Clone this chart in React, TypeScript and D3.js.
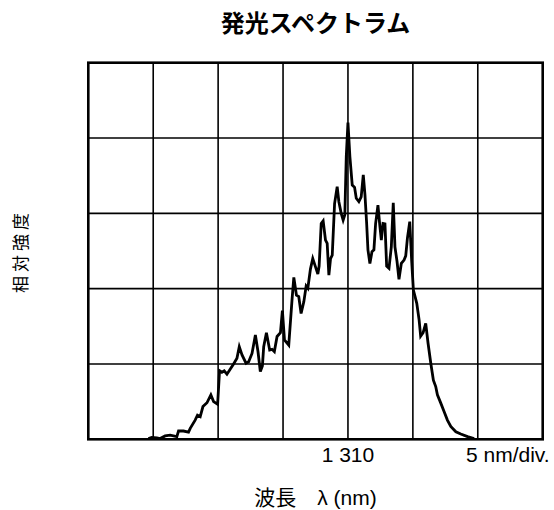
import * as d3 from "d3";

// wavelength (nm) / relative intensity (% of 5 div full scale)
const wavelength = [
  1294.63, 1294.89, 1295.28, 1295.53, 1295.92, 1296.3, 1296.82, 1296.95, 1297.33, 1297.72,
  1297.85, 1298.23, 1298.41, 1298.62, 1298.83, 1299.14, 1299.44, 1299.65, 1299.96, 1300.11,
  1300.29, 1300.47, 1300.68, 1300.89, 1301.19, 1301.45, 1301.63, 1301.84, 1302.15, 1302.35,
  1302.61, 1302.87, 1303.07, 1303.25, 1303.41, 1303.51, 1303.72, 1303.97, 1304.15, 1304.33,
  1304.54, 1304.8, 1304.95, 1305.11, 1305.44, 1305.7, 1305.83, 1306.03, 1306.21, 1306.39,
  1306.6, 1306.78, 1306.91, 1307.11, 1307.29, 1307.5, 1307.68, 1307.78, 1307.94, 1308.09,
  1308.27, 1308.4, 1308.53, 1308.66, 1308.79, 1308.97, 1309.17, 1309.3, 1309.48, 1309.63,
  1309.76, 1309.87, 1310.0, 1310.15, 1310.33, 1310.51, 1310.64, 1310.84, 1311.02, 1311.18,
  1311.31, 1311.44, 1311.54, 1311.69, 1311.85, 1312.0, 1312.13, 1312.31, 1312.44, 1312.57,
  1312.7, 1312.85, 1312.98, 1313.16, 1313.34, 1313.49, 1313.62, 1313.78, 1313.93, 1314.11,
  1314.32, 1314.45, 1314.58, 1314.76, 1314.91, 1315.04, 1315.17, 1315.3, 1315.48, 1315.6,
  1315.79, 1315.99, 1316.17, 1316.38, 1316.58, 1316.76, 1316.89, 1317.15, 1317.41, 1317.66,
  1317.92, 1318.31, 1318.69, 1319.21, 1319.72,
];
const intensity = [
  0.2, 0.5, 0.4, 0.2, 0.9, 1.1, 0.7, 2.2, 2.2, 1.9,
  2.9, 5.1, 6.4, 6.0, 8.7, 9.7, 11.8, 10.0, 9.3, 18.2,
  17.8, 18.2, 17.3, 18.4, 20.0, 21.5, 24.6, 22.4, 20.2, 20.6,
  22.8, 27.7, 23.3, 18.0, 19.5, 24.6, 28.3, 23.7, 23.9, 23.3,
  27.3, 28.3, 34.2, 26.4, 25.0, 37.4, 43.0, 38.3, 37.9, 33.4,
  36.5, 40.7, 40.1, 45.2, 48.0, 45.8, 43.9, 46.0, 57.3, 58.0,
  52.9, 52.0, 43.6, 48.0, 48.9, 62.6, 67.1, 63.1, 60.0, 58.2,
  59.6, 75.0, 84.1, 75.0, 67.5, 66.9, 64.0, 63.1, 64.4, 70.2,
  64.9, 57.3, 50.3, 46.7, 49.8, 50.3, 57.3, 62.2, 57.3, 52.9,
  57.3, 57.2, 46.0, 45.4, 51.1, 62.8, 51.1, 47.2, 42.5, 46.7,
  47.6, 48.7, 53.4, 57.8, 47.2, 39.6, 37.9, 36.1, 31.7, 27.4,
  28.3, 30.8, 25.5, 20.2, 15.7, 14.0, 11.8, 9.6, 7.3, 5.1,
  3.4, 2.0, 1.4, 0.7, 0.2,
];

const xGrid = [1290, 1295, 1300, 1305, 1310, 1315, 1320, 1325];
const yGrid = [0, 20, 40, 60, 80, 100];

const title = "発光スペクトラム";
const centerLabel = "1 310";
const centerValue = 1310;
const divLabel = "5 nm/div.";
const xTitle = "波長　λ (nm)";
const yTitle = "相対強度";

const W = 554;
const H = 510;
const plot = { left: 88.3, right: 542.7, top: 62.7, bottom: 439.3 };
const sans = "'Liberation Sans', Arial, 'Noto Sans CJK JP', sans-serif";
const jp = "'Noto Sans CJK JP', 'Liberation Sans', sans-serif";

export default function App() {
  const x = d3.scaleLinear().domain([1290, 1325]).range([plot.left, plot.right]);
  const y = d3.scaleLinear().domain([0, 100]).range([plot.bottom, plot.top]);

  const points = wavelength.map((w, i) => [w, intensity[i]] as [number, number]);
  const line = d3
    .line<[number, number]>()
    .x(d => x(d[0]))
    .y(d => y(d[1]));

  return (
    <svg
      width={W}
      height={H}
      style={{ position: "absolute", left: 0, top: 0, background: "#fff" }}
    >
      <text
        x={(plot.left + plot.right) / 2}
        y={31.5}
        textAnchor="middle"
        fontFamily={jp}
        fontWeight="bold"
        fontSize={24}
      >
        {title}
      </text>

      {xGrid.slice(1, -1).map(v => (
        <line key={"x" + v} x1={x(v)} x2={x(v)} y1={plot.top} y2={plot.bottom} stroke="#000" strokeWidth={1.6} />
      ))}
      {yGrid.slice(1, -1).map(v => (
        <line key={"y" + v} x1={plot.left} x2={plot.right} y1={y(v)} y2={y(v)} stroke="#000" strokeWidth={1.6} />
      ))}

      <path
        d={line(points) ?? ""}
        fill="none"
        stroke="#000"
        strokeWidth={2.8}
        strokeLinejoin="miter"
      />

      <rect
        x={plot.left}
        y={plot.top}
        width={plot.right - plot.left}
        height={plot.bottom - plot.top}
        fill="none"
        stroke="#000"
        strokeWidth={2.6}
      />

      <text x={x(centerValue)} y={462} textAnchor="middle" fontFamily={sans} fontSize={21}>
        {centerLabel}
      </text>
      <text x={466} y={462} fontFamily={sans} fontSize={21}>
        {divLabel}
      </text>

      <text x={(plot.left + plot.right) / 2} y={505} textAnchor="middle" fontFamily={sans} fontSize={21}>
        {xTitle}
      </text>

      <text
        transform={`translate(27,${(plot.top + plot.bottom) / 2}) rotate(-90)`}
        textAnchor="middle"
        fontFamily={jp}
        fontSize={17}
        letterSpacing={4}
      >
        {yTitle}
      </text>
    </svg>
  );
}
